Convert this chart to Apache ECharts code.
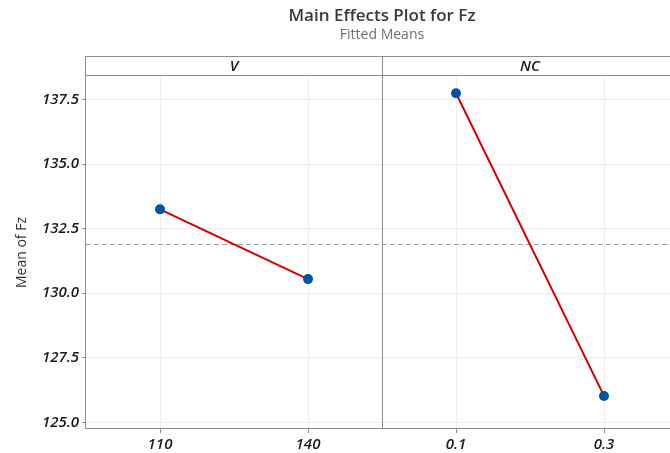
<!DOCTYPE html>
<html>
<head>
<meta charset="utf-8">
<title>Main Effects Plot for Fz</title>
<script src="https://cdn.jsdelivr.net/npm/echarts@6/dist/echarts.min.js"></script>
<style>
  html, body { margin: 0; padding: 0; background: #fff; }
  #chart { width: 670px; height: 453px; }
</style>
</head>
<body>
<div id="chart"></div>
<script>
// Factors and their fitted means
const factors = ['V', 'NC'];
const vLevels = ['110', '140'];
const vMeans = [133.24, 130.54];
const ncLevels = ['0.1', '0.3'];
const ncMeans = [137.73, 126.02];
const grandMean = 131.89;
const yTicks = [125.0, 127.5, 130.0, 132.5, 135.0, 137.5];

const FONT = '"Open Sans", "Noto Sans", sans-serif';
const frameColor = '#8c8c8c';
const gridColor = '#eeeeee';
const lineRed = '#d40000';
const dotBlue = '#0054a6';
const inkColor = '#1a1a1a';

const panelLeft = 86, panelWidth = 296, stripTop = 57, plotTop = 76, plotHeight = 353;

function xAxisFor(gridIndex, levels) {
  return {
    type: 'category',
    gridIndex: gridIndex,
    data: levels,
    boundaryGap: true,
    axisLine: { show: false },
    axisTick: { show: true, alignWithLabel: true, length: 4, lineStyle: { color: frameColor } },
    splitLine: { show: true, alignWithLabel: true, lineStyle: { color: gridColor, width: 1 } },
    axisLabel: { color: inkColor, fontSize: 15, fontStyle: 'italic', fontWeight: 600, fontFamily: FONT, margin: 8 }
  };
}

function yAxisFor(gridIndex, showLabels) {
  return {
    type: 'value',
    gridIndex: gridIndex,
    min: 124.74,
    max: 138.40,
    name: showLabels ? 'Mean of Fz' : '',
    nameLocation: 'middle',
    nameGap: 57,
    nameTextStyle: { color: '#333', fontSize: 14, fontFamily: FONT },
    axisLine: { show: false },
    axisTick: { show: showLabels, customValues: yTicks, length: 4, lineStyle: { color: frameColor } },
    axisLabel: {
      show: showLabels,
      customValues: yTicks,
      formatter: v => v.toFixed(1),
      color: inkColor, fontSize: 15, fontStyle: 'italic', fontWeight: 600, fontFamily: FONT, margin: 7
    },
    splitLine: { show: true, lineStyle: { color: gridColor, width: 1 } }
  };
}

function meanSeries(idx, levels, means) {
  return {
    type: 'line',
    xAxisIndex: idx,
    yAxisIndex: idx,
    data: levels.map((l, i) => [l, means[i]]),
    symbol: 'circle',
    symbolSize: 10,
    itemStyle: { color: dotBlue },
    lineStyle: { color: lineRed, width: 2 },
    z: 3,
    markLine: {
      silent: true,
      symbol: 'none',
      label: { show: false },
      lineStyle: { color: '#9a9a9a', type: [5, 3], width: 1 },
      data: [{ yAxis: grandMean }],
      z: 2
    }
  };
}

const plotBottom = plotTop + plotHeight;
const divider = panelLeft + panelWidth;

const chart = echarts.init(document.getElementById('chart'));
chart.setOption({
  animation: false,
  backgroundColor: '#fff',
  grid: [
    { left: panelLeft, top: plotTop, width: panelWidth, height: plotHeight, outerBoundsMode: 'none' },
    // the second panel runs slightly past the right edge of the canvas
    { left: divider, top: plotTop, width: panelWidth, height: plotHeight, outerBoundsMode: 'none' }
  ],
  xAxis: [xAxisFor(0, vLevels), xAxisFor(1, ncLevels)],
  yAxis: [yAxisFor(0, true), yAxisFor(1, false)],
  series: [meanSeries(0, vLevels, vMeans), meanSeries(1, ncLevels, ncMeans)],
  graphic: [
    {
      type: 'text', x: divider, y: 16,
      style: { text: 'Main Effects Plot for Fz', fill: '#3a3a3a', fontSize: 17, fontWeight: 600, fontFamily: FONT,
               textAlign: 'center', textVerticalAlign: 'middle' }
    },
    {
      type: 'text', x: divider, y: 35,
      style: { text: 'Fitted Means', fill: '#707070', fontSize: 14, fontFamily: FONT,
               textAlign: 'center', textVerticalAlign: 'middle' }
    },
    // panel frame, strip bottom edge and panel divider
    {
      type: 'rect', z: 10,
      shape: { x: panelLeft - 0.5, y: stripTop - 0.5, width: panelWidth * 2, height: plotBottom - stripTop },
      style: { fill: null, stroke: frameColor, lineWidth: 1 }
    },
    {
      type: 'line', z: 10,
      shape: { x1: panelLeft, y1: plotTop - 0.5, x2: panelLeft + panelWidth * 2, y2: plotTop - 0.5 },
      style: { stroke: frameColor, lineWidth: 1 }
    },
    {
      type: 'line', z: 10,
      shape: { x1: divider + 0.5, y1: stripTop, x2: divider + 0.5, y2: plotBottom },
      style: { stroke: frameColor, lineWidth: 1 }
    },
    ...factors.map((f, i) => ({
      type: 'text', z: 10,
      x: panelLeft + panelWidth * i + panelWidth / 2,
      y: (stripTop + plotTop) / 2,
      style: { text: f, fill: inkColor, fontSize: 15, fontStyle: 'italic', fontWeight: 600, fontFamily: FONT,
               textAlign: 'center', textVerticalAlign: 'middle' }
    }))
  ]
});
</script>
</body>
</html>
